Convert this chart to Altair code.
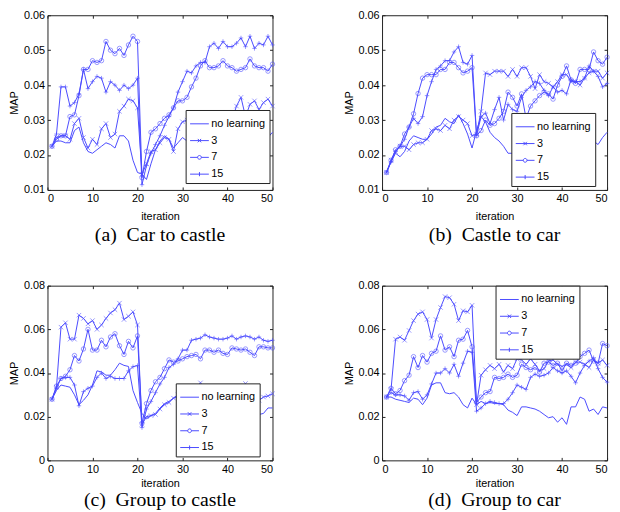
import altair as alt
import pandas as pd

ITER = list(range(1, 51))
SERIES = ["no learning", "3", "7", "15"]
BLUE = "#4a4aff"
FONT = "Liberation Sans"

# ---------------- (a) Car to castle ----------------
a_none = [0.0225,0.024,0.024,0.0235,0.0235,0.027,0.028,0.0235,0.021,0.0205,
          0.0215,0.0225,0.0235,0.023,0.022,0.0255,0.0255,0.024,0.0185,0.015,
          0.0145,0.013,0.0175,0.0215,0.024,0.0255,0.0245,0.022,0.0235,0.025,
          0.024,0.023,0.0225,0.024,0.025,0.023,0.022,0.0235,0.024,0.0225,
          0.023,0.024,0.0235,0.022,0.0235,0.0245,0.023,0.0225,0.025,0.0265]
a_3 = [0.0225,0.025,0.0255,0.0255,0.0245,0.029,0.0305,0.025,0.022,0.0245,
       0.023,0.0275,0.029,0.025,0.026,0.0325,0.034,0.036,0.0355,0.0335,
       0.0145,0.0175,0.021,0.0215,0.0235,0.025,0.0245,0.021,0.0275,0.0295,
       0.030,0.031,0.030,0.032,0.031,0.030,0.031,0.032,0.031,0.0315,
       0.030,0.034,0.0365,0.031,0.0345,0.0355,0.033,0.035,0.036,0.034]
a_7 = [0.0225,0.0245,0.0255,0.0255,0.031,0.0315,0.037,0.0445,0.0445,0.047,
       0.0465,0.047,0.0525,0.050,0.049,0.0505,0.0485,0.0515,0.054,0.0525,
       0.0135,0.021,0.0265,0.0275,0.029,0.0305,0.0315,0.0335,0.0355,0.0355,
       0.0365,0.0395,0.042,0.0455,0.047,0.045,0.045,0.0455,0.047,0.0455,
       0.045,0.044,0.0445,0.045,0.0475,0.0455,0.045,0.045,0.044,0.046]
a_15 = [0.0225,0.026,0.0395,0.0395,0.034,0.035,0.0375,0.0445,0.039,0.041,
        0.0425,0.042,0.038,0.041,0.040,0.0385,0.040,0.039,0.040,0.042,
        0.0115,0.017,0.0205,0.023,0.0255,0.0285,0.031,0.0335,0.038,0.041,
        0.044,0.0435,0.0455,0.0465,0.0465,0.051,0.052,0.0505,0.0525,0.051,
        0.051,0.052,0.0535,0.051,0.054,0.0505,0.052,0.0515,0.054,0.0515]

# ---------------- (b) Castle to car ----------------
b_none = [0.015,0.018,0.0205,0.0195,0.021,0.024,0.0255,0.025,0.0245,0.0245,
          0.026,0.028,0.0285,0.0305,0.0295,0.029,0.0315,0.029,0.026,0.022,
          0.027,0.031,0.0295,0.0265,0.025,0.024,0.0225,0.0205,0.0205,0.021,
          0.021,0.022,0.0215,0.0225,0.023,0.022,0.0215,0.023,0.024,0.0225,
          0.0235,0.023,0.0225,0.0235,0.024,0.0235,0.024,0.023,0.025,0.0265]
b_3 = [0.015,0.0185,0.021,0.0225,0.0225,0.0215,0.023,0.0235,0.0235,0.0245,
       0.027,0.0275,0.027,0.0285,0.0275,0.030,0.031,0.030,0.029,0.0255,
       0.026,0.0325,0.0435,0.043,0.044,0.044,0.044,0.0425,0.0445,0.0425,
       0.045,0.045,0.0425,0.039,0.043,0.041,0.0405,0.0395,0.041,0.043,
       0.043,0.041,0.041,0.040,0.042,0.0435,0.044,0.044,0.042,0.0435]
b_7 = [0.015,0.0185,0.0215,0.0225,0.026,0.028,0.0318,0.0376,0.042,0.043,
       0.043,0.043,0.0445,0.0445,0.0465,0.0465,0.045,0.0435,0.044,0.045,
       0.0255,0.027,0.030,0.0285,0.029,0.0305,0.0325,0.038,0.0365,0.034,
       0.0375,0.0305,0.034,0.0355,0.037,0.038,0.0375,0.036,0.040,0.0425,
       0.0455,0.0415,0.0405,0.0445,0.0445,0.0445,0.0495,0.047,0.046,0.048]
b_15 = [0.015,0.018,0.021,0.0225,0.0245,0.028,0.0305,0.029,0.031,0.037,
        0.041,0.0445,0.0455,0.047,0.047,0.0495,0.051,0.0465,0.046,0.0485,
        0.0255,0.031,0.032,0.029,0.033,0.0365,0.030,0.0345,0.033,0.0325,
        0.0365,0.0385,0.0395,0.041,0.0405,0.0385,0.037,0.0395,0.038,0.0385,
        0.0375,0.0415,0.041,0.041,0.042,0.0455,0.044,0.0425,0.0395,0.0405]

# ---------------- (c) Group to castle ----------------
c_none = [0.028,0.032,0.0345,0.034,0.0335,0.030,0.0255,0.0275,0.030,0.0345,
          0.041,0.0405,0.039,0.039,0.0415,0.0445,0.0435,0.043,0.032,0.0265,
          0.0215,0.019,0.0205,0.0215,0.024,0.026,0.027,0.0285,0.029,0.029,
          0.028,0.027,0.0265,0.0255,0.025,0.0245,0.024,0.0235,0.023,0.0225,
          0.022,0.0225,0.023,0.0225,0.022,0.0215,0.021,0.0215,0.024,0.024]
c_3 = [0.028,0.0335,0.061,0.063,0.0555,0.0555,0.0665,0.065,0.0625,0.064,
       0.060,0.062,0.065,0.0675,0.069,0.072,0.0645,0.066,0.068,0.062,
       0.0165,0.020,0.0205,0.021,0.0235,0.0255,0.0265,0.0285,0.030,0.031,
       0.031,0.033,0.0335,0.0355,0.033,0.0335,0.032,0.0325,0.033,0.032,
       0.0325,0.033,0.0335,0.0352,0.032,0.030,0.0275,0.029,0.0295,0.0305]
c_7 = [0.028,0.034,0.0375,0.0385,0.0415,0.048,0.0455,0.051,0.060,0.0505,
       0.0505,0.055,0.052,0.0565,0.058,0.0525,0.0485,0.0545,0.0515,0.057,
       0.017,0.026,0.032,0.036,0.038,0.042,0.046,0.045,0.0455,0.0465,
       0.0475,0.048,0.0485,0.0465,0.0505,0.0505,0.0495,0.0505,0.049,0.0485,
       0.0515,0.051,0.0505,0.051,0.0495,0.048,0.052,0.052,0.0515,0.0515]
c_15 = [0.028,0.033,0.0375,0.038,0.038,0.0345,0.025,0.0315,0.033,0.034,
        0.038,0.040,0.0375,0.0385,0.0375,0.0375,0.0375,0.041,0.0429,0.0434,
        0.015,0.0235,0.027,0.031,0.035,0.038,0.0425,0.044,0.0465,0.0505,
        0.0505,0.055,0.0555,0.056,0.0575,0.0565,0.056,0.0555,0.0555,0.056,
        0.057,0.0555,0.0565,0.057,0.0565,0.0555,0.0565,0.055,0.0545,0.055]

# ---------------- (d) Group to car ----------------
d_none = [0.029,0.029,0.028,0.0275,0.027,0.0265,0.0285,0.028,0.0255,0.0285,
          0.0345,0.0355,0.0355,0.031,0.0305,0.031,0.029,0.0255,0.024,0.0285,
          0.0255,0.027,0.026,0.0265,0.026,0.026,0.0255,0.023,0.022,0.0205,
          0.0245,0.0245,0.024,0.0235,0.0225,0.021,0.0195,0.020,0.0175,0.0195,
          0.0165,0.0245,0.0245,0.029,0.028,0.0225,0.0235,0.021,0.0245,0.024]
d_3 = [0.029,0.0325,0.0555,0.0565,0.055,0.0595,0.064,0.067,0.068,0.0645,
       0.056,0.0645,0.070,0.075,0.0745,0.0715,0.064,0.0685,0.068,0.071,
       0.0255,0.039,0.0415,0.0435,0.042,0.044,0.0405,0.0435,0.042,0.0465,
       0.046,0.044,0.0465,0.044,0.041,0.042,0.0455,0.046,0.044,0.043,
       0.044,0.0425,0.045,0.045,0.044,0.0425,0.046,0.0445,0.046,0.0435]
d_7 = [0.029,0.033,0.0305,0.032,0.0365,0.039,0.0475,0.0425,0.048,0.045,
       0.049,0.050,0.057,0.0505,0.052,0.0475,0.055,0.0555,0.0595,0.052,
       0.0265,0.029,0.031,0.0315,0.038,0.0375,0.038,0.0395,0.038,0.039,
       0.044,0.0425,0.0415,0.0425,0.0405,0.0445,0.045,0.0435,0.0445,0.041,
       0.0445,0.0435,0.0445,0.0475,0.049,0.0505,0.0455,0.0445,0.0535,0.0525]
d_15 = [0.029,0.031,0.030,0.030,0.0295,0.0275,0.031,0.0315,0.028,0.030,
        0.035,0.040,0.040,0.042,0.040,0.044,0.0385,0.0445,0.050,0.0495,
        0.0225,0.024,0.026,0.027,0.0265,0.026,0.026,0.028,0.031,0.0345,
        0.0335,0.0325,0.038,0.0395,0.0385,0.039,0.040,0.0425,0.041,0.040,
        0.041,0.0385,0.0355,0.040,0.0435,0.0455,0.047,0.042,0.038,0.0358]

X_TICKS = [0, 10, 20, 30, 40, 50]
Y_TICKS_AB = [0.01, 0.02, 0.03, 0.04, 0.05, 0.06]
Y_TICKS_CD = [0, 0.02, 0.04, 0.06, 0.08]

# marker shapes (data) and legend symbols (line + marker)
MARK_X = "M-1,-1L1,1M-1,1L1,-1"
MARK_P = "M-1,0L1,0M0,-1L0,1"
LEG_0 = "M-1,0L1,0"
LEG_3 = "M-1,0L1,0M-0.18,-0.18L0.18,0.18M-0.18,0.18L0.18,-0.18"
LEG_7 = "M-1,0L-0.2,0A0.2,0.2,0,1,1,0.2,0A0.2,0.2,0,1,1,-0.2,0M0.2,0L1,0"
LEG_15 = "M-1,0L1,0M0,-0.22L0,0.22"
SYM_EXPR = ("datum.value === '3' ? '" + LEG_3 + "' : datum.value === '7' ? '" + LEG_7 +
            "' : datum.value === '15' ? '" + LEG_15 + "' : '" + LEG_0 + "'")

W, H = 228, 177


def panel(series_lists, ydom, yticks, caption, lx, ly, extra_pad=0, xtitle_pad=5, cap_off=4):
    rows = []
    for name, vals in zip(SERIES, series_lists):
        for it, v in zip(ITER, vals):
            rows.append({"series": name, "iteration": it, "value": v})
    df = pd.DataFrame(rows)
    xs = alt.Scale(domain=[0, 50], nice=False)
    ys = alt.Scale(domain=ydom, nice=False, zero=False)
    lab = "datum.value == 0 ? '0' : format(datum.value, '.2f')"
    leg_lab = "datum.label + (datum.value === 'no learning' ? '" + "\u00a0" * extra_pad + "' : '')"
    base = alt.Chart(df)
    lines = base.mark_line(strokeWidth=1, color=BLUE).encode(
        x=alt.X("iteration:Q", scale=xs,
                axis=alt.Axis(values=X_TICKS, title="iteration", tickSize=3, offset=-3,
                              labelPadding=3, titlePadding=xtitle_pad, domain=False)),
        y=alt.Y("value:Q", scale=ys,
                axis=alt.Axis(values=yticks, title="MAP", tickSize=3, offset=-3,
                              labelPadding=3, titlePadding=4, labelExpr=lab, domain=False)),
        stroke=alt.Stroke("series:N", scale=alt.Scale(domain=SERIES, range=[BLUE] * 4),
                          legend=alt.Legend(title=None, orient="none", legendX=lx, legendY=ly,
                                            symbolType=alt.ExprRef(expr=SYM_EXPR),
                                            symbolSize=361, symbolStrokeWidth=1,
                                            symbolFillColor="transparent",
                                            labelExpr=leg_lab,
                                            labelFont=FONT, labelFontSize=11, labelColor="black",
                                            labelOffset=2, rowPadding=2, padding=4,
                                            strokeColor="#222", fillColor="white")),
        order="iteration:Q",
    )
    pts = base.transform_filter("datum.series != 'no learning'").mark_point(
        filled=False, size=20, strokeWidth=0.8, color=BLUE).encode(
        x=alt.X("iteration:Q", scale=xs,
                axis=alt.Axis(orient="top", values=X_TICKS, labels=False, title=None,
                              tickSize=3, offset=-3, domain=False)),
        y=alt.Y("value:Q", scale=ys,
                axis=alt.Axis(orient="right", values=yticks, labels=False, title=None,
                              tickSize=3, offset=-3, domain=False)),
        shape=alt.Shape("series:N", scale=alt.Scale(domain=["3", "7", "15"],
                                                    range=[MARK_X, "circle", MARK_P]),
                        legend=None),
    )
    return alt.layer(lines, pts).resolve_axis(x="independent", y="independent").properties(
        width=W, height=H,
        title=alt.TitleParams(caption, orient="bottom", anchor="middle", frame="group",
                              font="Liberation Serif", fontSize=20, fontWeight="normal",
                              color="black", offset=cap_off))


pa = panel([a_none, a_3, a_7, a_15], [0.01, 0.06], Y_TICKS_AB, "(a)\u00a0 Car to castle", 140, 96,
           xtitle_pad=7, cap_off=4)
pb = panel([b_none, b_3, b_7, b_15], [0.01, 0.06], Y_TICKS_AB, "(b)\u00a0 Castle to car", 131, 99,
           extra_pad=3, xtitle_pad=7, cap_off=4)
pc = panel([c_none, c_3, c_7, c_15], [0.0, 0.08], Y_TICKS_CD, "(c)\u00a0 Group to castle", 130, 99,
           xtitle_pad=3, cap_off=2)
pd_ = panel([d_none, d_3, d_7, d_15], [0.0, 0.08], Y_TICKS_CD, "(d)\u00a0 Group to car", 115, 0,
            xtitle_pad=3, cap_off=2)


def indep(c):
    return c.resolve_scale(stroke="independent", shape="independent").resolve_legend(
        stroke="independent", shape="independent")


chart = indep(alt.vconcat(
    indep(alt.hconcat(pa, pb, spacing=66)),
    indep(alt.hconcat(pc, pd_, spacing=66)),
    spacing=33,
)).configure(padding={"left": 0, "top": -3, "right": 0, "bottom": 0}).configure_view(
    stroke="#222", strokeWidth=1
).configure_axis(
    labelFont=FONT, labelFontSize=11, labelColor="black", titleFont=FONT, titleFontSize=11,
    titleFontWeight="normal", titleColor="black", tickColor="#222", grid=False
)

chart.save("out.html", embed_options={"renderer": "svg", "actions": False})
